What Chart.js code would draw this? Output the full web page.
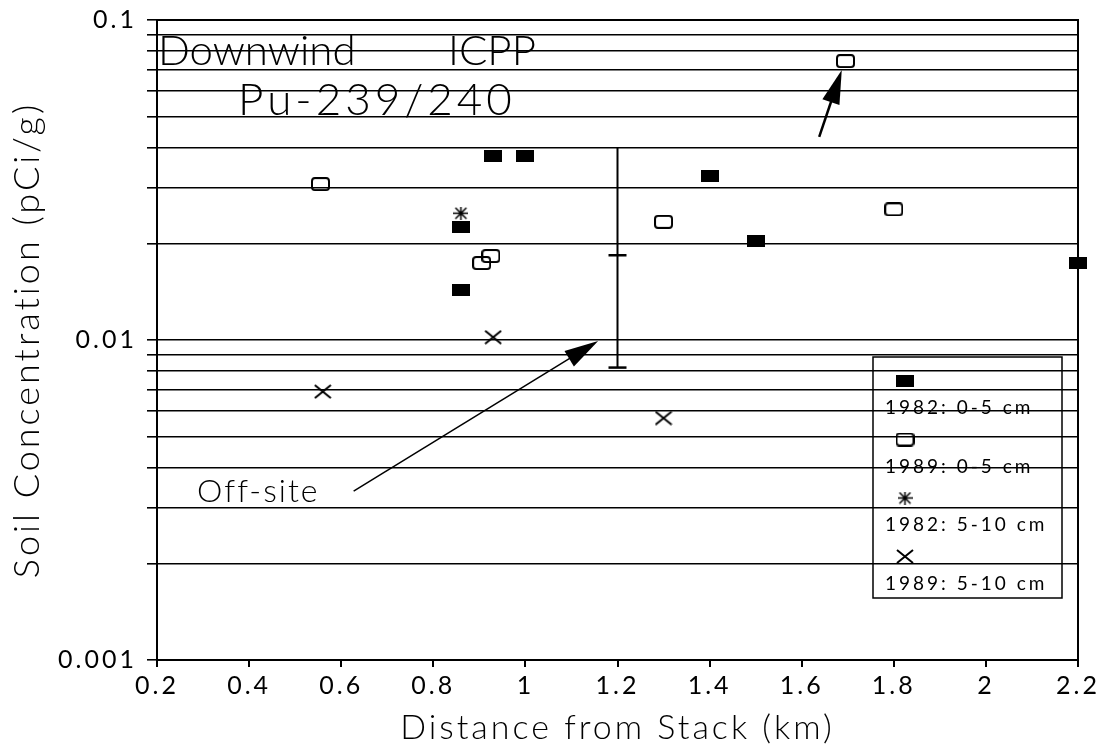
<!DOCTYPE html>
<html>
<head>
<meta charset="utf-8">
<style>
  html, body { margin: 0; padding: 0; background: #fff; }
  #wrap { width: 1103px; height: 752px; }
</style>
</head>
<body>
<div id="wrap"><canvas id="chart"></canvas></div>
<script src="https://cdn.jsdelivr.net/npm/chart.js@4.4.0/dist/chart.umd.min.js"></script>
<script>
// ticks
const distTicks = [0.2, 0.4, 0.6, 0.8, 1, 1.2, 1.4, 1.6, 1.8, 2, 2.2];
const concTicks = [0.001, 0.002, 0.003, 0.004, 0.005, 0.006, 0.007, 0.008, 0.009,
                   0.01, 0.02, 0.03, 0.04, 0.05, 0.06, 0.07, 0.08, 0.09, 0.1];
const concLabels = [0.001, 0.01, 0.1];

// series (distance km, concentration pCi/g)
const labels = ["1982: 0-5 cm", "1989: 0-5 cm", "1982: 5-10 cm", "1989: 5-10 cm"];
const dist82a = [0.93, 1.0, 0.86, 0.86, 1.4, 1.5, 2.2];
const conc82a = [0.0376, 0.0376, 0.0226, 0.0143, 0.0326, 0.0204, 0.0174];
const dist89a = [0.555, 0.905, 0.925, 1.3, 1.8, 1.695];
const conc89a = [0.0307, 0.0174, 0.0183, 0.0234, 0.0256, 0.0744];
const dist82b = [0.86];
const conc82b = [0.0249];
const dist89b = [0.56, 0.93, 1.3];
const conc89b = [0.0069, 0.0102, 0.0057];

// off-site range bar at 1.2 km: top, middle, bottom
const offsiteDist = [1.2, 1.2, 1.2];
const offsiteConc = [0.04, 0.0184, 0.0082];

const pts = (xs, ys) => xs.map((x, i) => ({x: x, y: ys[i]}));

// marker glyphs
function marker(w, h, draw) {
  const c = document.createElement('canvas');
  c.width = w; c.height = h;
  const g = c.getContext('2d');
  g.strokeStyle = '#000'; g.fillStyle = '#000'; g.lineWidth = 2;
  draw(g, w, h);
  return c;
}
const filledSq = marker(18, 12, (g, w, h) => g.fillRect(0, 0, w, h));
const openSq = marker(19, 14, (g, w, h) => {
  g.beginPath(); g.roundRect(1, 1, w - 2, h - 2, 3); g.stroke();
});
const asterisk = marker(15, 13, (g, w, h) => {
  g.lineWidth = 1.5;
  g.beginPath();
  g.moveTo(0, h / 2); g.lineTo(w, h / 2);
  g.moveTo(w / 2, 0); g.lineTo(w / 2, h);
  g.moveTo(2, 1); g.lineTo(w - 2, h - 1);
  g.moveTo(w - 2, 1); g.lineTo(2, h - 1);
  g.stroke();
});
const cross = marker(18, 15, (g, w, h) => {
  g.beginPath();
  g.moveTo(1, 1); g.lineTo(w - 1, h - 1);
  g.moveTo(w - 1, 1); g.lineTo(1, h - 1);
  g.stroke();
});

const FONT = 'Lato, "DejaVu Sans", sans-serif';
Chart.defaults.font.family = FONT;
Chart.defaults.color = '#000';

// text and arrows placed in data units
const notes = [
  {text: 'Downwind', x: 0.202, y: 0.0723, size: 42, sp: 0},
  {text: 'ICPP', x: 0.832, y: 0.0723, size: 42, sp: 0},
  {text: 'Pu-239/240', x: 0.376, y: 0.0505, size: 44, sp: 4},
  {text: 'Off-site', x: 0.287, y: 0.00312, size: 32, sp: 2}
];
const arrows = [
  {from: [0.627, 0.00337], to: [1.158, 0.00993], lw: 1.5, len: 34, half: 9},
  {from: [1.638, 0.0431], to: [1.687, 0.0698], lw: 2.5, len: 34, half: 9}
];

const spacing = {
  id: 'spacing',
  beforeUpdate(chart) { chart.ctx.letterSpacing = '3px'; },
  beforeDraw(chart) { chart.ctx.letterSpacing = '3px'; }
};

const extras = {
  id: 'extras',
  afterDatasetsDraw(chart) {
    const ctx = chart.ctx, xs = chart.scales.x, ys = chart.scales.y, a = chart.chartArea;
    ctx.save();
    ctx.fillStyle = '#000';
    ctx.strokeStyle = '#000';
    ctx.textBaseline = 'alphabetic';
    ctx.textAlign = 'left';
    notes.forEach(n => {
      ctx.font = '300 ' + n.size + 'px ' + FONT;
      ctx.letterSpacing = n.sp + 'px';
      ctx.fillText(n.text, xs.getPixelForValue(n.x), ys.getPixelForValue(n.y));
    });
    arrows.forEach(r => {
      const x0 = xs.getPixelForValue(r.from[0]), y0 = ys.getPixelForValue(r.from[1]);
      const x1 = xs.getPixelForValue(r.to[0]), y1 = ys.getPixelForValue(r.to[1]);
      const ang = Math.atan2(y1 - y0, x1 - x0), c = Math.cos(ang), s = Math.sin(ang);
      ctx.lineWidth = r.lw;
      ctx.beginPath();
      ctx.moveTo(x0, y0);
      ctx.lineTo(x1 - r.len * 0.8 * c, y1 - r.len * 0.8 * s);
      ctx.stroke();
      ctx.beginPath();
      ctx.moveTo(x1, y1);
      ctx.lineTo(x1 - r.len * c + r.half * s, y1 - r.len * s - r.half * c);
      ctx.lineTo(x1 - r.len * c - r.half * s, y1 - r.len * s + r.half * c);
      ctx.closePath();
      ctx.fill();
    });

    // legend box, marker above each label
    const bw = 189, bh = 241;
    const bx = a.right - 16 - bw, by = a.bottom - 62 - bh;
    ctx.lineWidth = 1.5;
    ctx.strokeRect(bx, by, bw, bh);
    ctx.font = '19px ' + FONT;
    ctx.letterSpacing = '3px';
    ctx.textBaseline = 'middle';
    chart.data.datasets.slice(0, 4).forEach((d, i) => {
      const m = d.pointStyle;
      const my = by + 24 + i * 58.5;
      ctx.drawImage(m, bx + 32 - m.width / 2, my - m.height / 2);
      ctx.fillText(d.label, bx + 12, my + 27);
    });

    // plot frame
    ctx.lineWidth = 2;
    ctx.strokeRect(a.left, a.top, a.right - a.left, a.bottom - a.top);
    ctx.restore();
  }
};

new Chart(document.getElementById('chart'), {
  type: 'scatter',
  data: {
    datasets: [
      {label: labels[0], data: pts(dist82a, conc82a), pointStyle: filledSq, pointRadius: 9, clip: false},
      {label: labels[1], data: pts(dist89a, conc89a), pointStyle: openSq, pointRadius: 9, clip: false},
      {label: labels[2], data: pts(dist82b, conc82b), pointStyle: asterisk, pointRadius: 7, clip: false},
      {label: labels[3], data: pts(dist89b, conc89b), pointStyle: cross, pointRadius: 9, clip: false},
      {
        label: 'Off-site',
        data: pts(offsiteDist, offsiteConc),
        showLine: true,
        borderColor: '#000',
        borderWidth: 2,
        pointStyle: c => c.dataIndex === 0 ? false : 'line',
        pointRadius: 9,
        pointBorderColor: '#000',
        pointBorderWidth: 2.5
      }
    ]
  },
  options: {
    responsive: true,
    maintainAspectRatio: false,
    animation: false,
    events: [],
    layout: {padding: {top: 20, right: 25, left: 0, bottom: 0}},
    plugins: {legend: {display: false}, tooltip: {enabled: false}},
    scales: {
      x: {
        type: 'linear',
        min: 0.2, max: 2.2,
        afterBuildTicks: s => { s.ticks = distTicks.map(v => ({value: v})); },
        afterFit: s => { s.height = 92; s.paddingLeft = 0; s.paddingRight = 0; },
        ticks: {
          font: {size: 25},
          padding: 4,
          maxRotation: 0,
          autoSkip: false,
          callback: v => String(v)
        },
        grid: {drawOnChartArea: false, color: '#000', tickLength: 7, lineWidth: 2},
        border: {color: '#000', width: 2},
        title: {
          display: true,
          text: 'Distance from Stack (km)',
          font: {size: 34, weight: '300'},
          padding: {top: 0, bottom: 4}
        }
      },
      y: {
        type: 'logarithmic',
        min: 0.001, max: 0.1,
        afterBuildTicks: s => { s.ticks = concTicks.map(v => ({value: v})); },
        afterFit: s => { s.width = 157; s.paddingTop = 0; s.paddingBottom = 0; },
        ticks: {
          font: {size: 25},
          padding: 10,
          autoSkip: false,
          callback: v => concLabels.includes(v) ? String(v) : ''
        },
        grid: {color: '#000', lineWidth: 1.6, tickLength: 10},
        border: {color: '#000', width: 2},
        title: {
          display: true,
          text: 'Soil Concentration (pCi/g)',
          font: {size: 36, weight: '300'},
          padding: {top: 6, bottom: 0}
        }
      }
    }
  },
  plugins: [spacing, extras]
});
</script>
</body>
</html>
